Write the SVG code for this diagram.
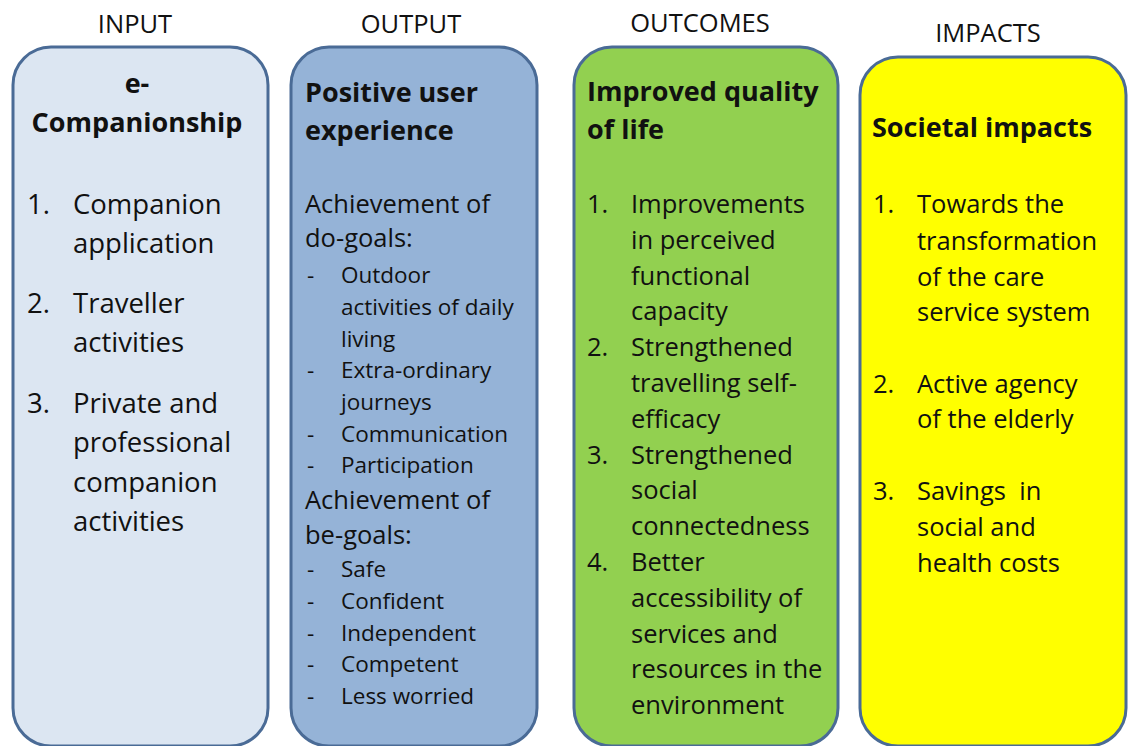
<svg xmlns="http://www.w3.org/2000/svg" width="1128" height="746" viewBox="0 0 1128 746">
<style>
text { font-family: "Open Sans", "Noto Sans", sans-serif; fill: #111; white-space: pre; }
.hdr { font-size: 25.5px; text-anchor: middle; }
.box { stroke: #4a6b96; stroke-width: 3; }
.ttl { font-size: 27px; font-weight: bold; }
.b1 { font-size: 27.5px; }
.sub { font-size: 25.5px; }
.sm { font-size: 22.5px; }
.bd { font-size: 25.5px; }
</style>
<rect width="1128" height="746" fill="#ffffff"/>
<g id="headers">
<text class="hdr" x="135" y="33">INPUT</text>
<text class="hdr" x="411" y="33">OUTPUT</text>
<text class="hdr" x="700" y="32">OUTCOMES</text>
<text class="hdr" x="988" y="42">IMPACTS</text>
</g>
<g id="connectors"></g>
<g id="input">
<rect class="box" x="13" y="47" width="255" height="699" rx="38" fill="#dce6f2"/>
<text class="ttl" x="137" y="93" text-anchor="middle">e-</text>
<text class="ttl" x="137" y="132" text-anchor="middle">Companionship</text>
<g class="b1">
<text x="27" y="214">1.</text><text x="73" y="214">Companion</text>
<text x="73" y="253">application</text>
<text x="27" y="313">2.</text><text x="73" y="313">Traveller</text>
<text x="73" y="352">activities</text>
<text x="27" y="413">3.</text><text x="73" y="413">Private and</text>
<text x="73" y="452">professional</text>
<text x="73" y="492">companion</text>
<text x="73" y="531">activities</text>
</g>
</g>
<g id="output">
<rect class="box" x="291" y="47" width="246" height="699" rx="38" fill="#95b3d7"/>
<text class="ttl" x="305" y="102">Positive user</text>
<text class="ttl" x="305" y="140">experience</text>
<text class="sub" x="305" y="213">Achievement of</text>
<text class="sub" x="305" y="247">do-goals:</text>
<g class="sm">
<text x="307" y="283">-</text><text x="341" y="283">Outdoor</text>
<text x="341" y="315">activities of daily</text>
<text x="341" y="347">living</text>
<text x="307" y="378">-</text><text x="341" y="378">Extra-ordinary</text>
<text x="341" y="410">journeys</text>
<text x="307" y="442">-</text><text x="341" y="442">Communication</text>
<text x="307" y="473">-</text><text x="341" y="473">Participation</text>
</g>
<text class="sub" x="305" y="509">Achievement of</text>
<text class="sub" x="305" y="544">be-goals:</text>
<g class="sm">
<text x="307" y="577">-</text><text x="341" y="577">Safe</text>
<text x="307" y="609">-</text><text x="341" y="609">Confident</text>
<text x="307" y="641">-</text><text x="341" y="641">Independent</text>
<text x="307" y="672">-</text><text x="341" y="672">Competent</text>
<text x="307" y="704">-</text><text x="341" y="704">Less worried</text>
</g>
</g>
<g id="outcomes">
<rect class="box" x="574" y="47" width="264" height="699" rx="38" fill="#92d050"/>
<text class="ttl" x="587" y="101">Improved quality</text>
<text class="ttl" x="587" y="139">of life</text>
<g class="bd">
<text x="587" y="213">1.</text><text x="631" y="213">Improvements</text>
<text x="631" y="249">in perceived</text>
<text x="631" y="285">functional</text>
<text x="631" y="320">capacity</text>
<text x="587" y="356">2.</text><text x="631" y="356">Strengthened</text>
<text x="631" y="392">travelling self-</text>
<text x="631" y="428">efficacy</text>
<text x="587" y="464">3.</text><text x="631" y="464">Strengthened</text>
<text x="631" y="499">social</text>
<text x="631" y="535">connectedness</text>
<text x="587" y="571">4.</text><text x="631" y="571">Better</text>
<text x="631" y="607">accessibility of</text>
<text x="631" y="643">services and</text>
<text x="631" y="678">resources in the</text>
<text x="631" y="714">environment</text>
</g>
</g>
<g id="impacts">
<rect class="box" x="860" y="57" width="266" height="689" rx="38" fill="#ffff00"/>
<text class="ttl" x="872" y="137">Societal impacts</text>
<g class="bd">
<text x="873" y="213">1.</text><text x="917" y="213">Towards the</text>
<text x="917" y="250">transformation</text>
<text x="917" y="286">of the care</text>
<text x="917" y="321">service system</text>
<text x="873" y="393">2.</text><text x="917" y="393">Active agency</text>
<text x="917" y="428">of the elderly</text>
<text x="873" y="500">3.</text><text x="917" y="500" xml:space="preserve">Savings  in</text>
<text x="917" y="536">social and</text>
<text x="917" y="572">health costs</text>
</g>
</g>
</svg>
